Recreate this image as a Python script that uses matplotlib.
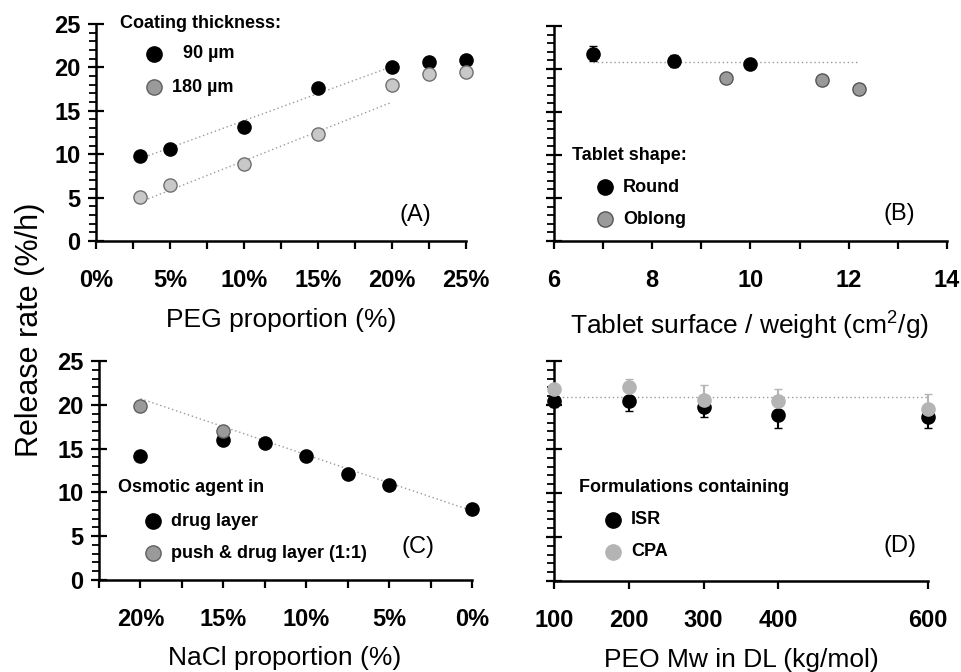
import matplotlib.pyplot as plt
from matplotlib.lines import Line2D
from matplotlib.ticker import MultipleLocator, FixedLocator, FuncFormatter

plt.rcParams['font.family'] = ['Liberation Sans', 'DejaVu Sans']
plt.rcParams['font.weight'] = 'bold'
plt.rcParams['mathtext.default'] = 'regular'

###### data ######
# (A) PEG proportion in coating
peg_pct = [3, 5, 10, 15, 20, 22.5, 25]
rate_90um = [9.8, 10.6, 13.1, 17.6, 20.0, 20.6, 20.8]
rate_180um = [5.1, 6.4, 8.9, 12.3, 18.0, 19.2, 19.5]
fit_a_x = [3, 20]
fit_a_90um = [9.5, 20.1]
fit_a_180um = [4.5, 16.0]

# (B) tablet surface / weight
round_sw = [6.8, 8.45, 10.0]
round_rate = [21.8, 20.9, 20.6]
round_err = [0.9, 0.7, 0.3]
oblong_sw = [9.5, 11.45, 12.2]
oblong_rate = [18.9, 18.7, 17.7]
oblong_err = [0.3, 0.5, 0.3]
fit_b_x = [6.8, 12.2]
fit_b_y = [20.8, 20.8]

# (C) NaCl proportion
nacl_pct = [20, 15, 12.5, 10, 7.5, 5, 0]
rate_drug_layer = [14.1, 16.0, 15.6, 14.1, 12.1, 10.9, 8.05]
nacl_pct_push = [20, 15]
rate_push_drug = [19.9, 17.0]
fit_c_x = [20, 0]
fit_c_y = [20.7, 7.9]

# (D) PEO Mw in drug layer
peo_mw = [100, 200, 300, 400, 600]
rate_isr = [20.4, 20.5, 19.8, 18.9, 18.6]
isr_err = [0.6, 1.15, 1.2, 1.5, 1.25]
rate_cpa = [21.8, 22.1, 20.6, 20.4, 19.5]
cpa_err = [0.4, 0.9, 1.7, 1.4, 1.8]
fit_d_x = [100, 600]
fit_d_y = [20.9, 20.9]

W, H = 962, 672
fig = plt.figure(figsize=(W / 100, H / 100), dpi=100)


def fx(x):
    return x / W


def fy(y):
    return 1 - y / H


def px_axes(l, t, r, b):
    return fig.add_axes([fx(l), fy(b), (r - l) / W, (b - t) / H])


def style(ax, ylabels=True):
    for s in ('top', 'right'):
        ax.spines[s].set_visible(False)
    for s in ('left', 'bottom'):
        ax.spines[s].set_linewidth(1.8)
    ax.set_ylim(0, 25)
    ax.yaxis.set_major_locator(MultipleLocator(5))
    ax.yaxis.set_minor_locator(MultipleLocator(1))
    ax.tick_params(axis='y', which='major', direction='inout', length=12, width=1.6, pad=5, labelsize=17)
    ax.tick_params(axis='y', which='minor', direction='out', length=5, width=1.3)
    ax.tick_params(axis='x', which='both', direction='out', length=6, width=1.6, pad=14, labelsize=17)
    if not ylabels:
        ax.tick_params(axis='y', labelleft=False)


def pct_fmt(v, pos):
    return f"{v:.0f}%" if abs(v % 5) < 1e-6 else ""


def key(x, y, label, fc, ec):
    fig.add_artist(Line2D([fx(x)], [fy(y)], transform=fig.transFigure, marker='o', ms=11,
                          mfc=fc, mec=ec, mew=1, ls='none'))
    fig.text(fx(x + 18), fy(y), label, fontsize=13, va='center', ha='left')


dot = dict(ls=(0, (1, 2)), color='#9a9a9a', lw=1.0, zorder=1)

###### (A) ######
axA = px_axes(96, 24, 466, 241)
style(axA)
axA.set_xlim(0, 25)
axA.xaxis.set_major_locator(MultipleLocator(2.5))
axA.xaxis.set_major_formatter(FuncFormatter(pct_fmt))
axA.plot(fit_a_x, fit_a_90um, **dot)
axA.plot(fit_a_x, fit_a_180um, **dot)
axA.plot(peg_pct, rate_90um, 'o', ms=9.5, mfc='black', mec='black', clip_on=False, zorder=3)
axA.plot(peg_pct, rate_180um, 'o', ms=9.5, mfc='#c8c8c8', mec='#707070', mew=1, clip_on=False, zorder=3)
fig.text(fx(120), fy(23), 'Coating thickness:', fontsize=13, va='center')
fig.add_artist(Line2D([fx(154)], [fy(54)], transform=fig.transFigure, marker='o', ms=11,
                      mfc='black', mec='black', ls='none'))
fig.text(fx(183), fy(54), '90 \u00b5m', fontsize=13, va='center')
fig.add_artist(Line2D([fx(154)], [fy(87)], transform=fig.transFigure, marker='o', ms=11,
                      mfc='#9a9a9a', mec='#606060', mew=1, ls='none'))
fig.text(fx(172), fy(87), '180 \u00b5m', fontsize=13, va='center')
fig.text(fx(415), fy(215), '(A)', fontsize=17, weight='normal', ha='center', va='center')
fig.text(fx(281), fy(320), 'PEG proportion (%)', fontsize=19, weight='normal', ha='center', va='center')

###### (B) ######
axB = px_axes(554, 26, 947, 241)
style(axB, ylabels=False)
axB.set_xlim(6, 14)
axB.xaxis.set_major_locator(MultipleLocator(1))
axB.xaxis.set_major_formatter(FuncFormatter(lambda v, p: f"{v:.0f}" if v % 2 == 0 else ""))
axB.plot(fit_b_x, fit_b_y, **dot)
axB.errorbar(round_sw, round_rate, yerr=round_err, fmt='o', ms=9.5, mfc='black', mec='black',
             ecolor='black', elinewidth=1.5, capsize=3, zorder=3)
axB.errorbar(oblong_sw, oblong_rate, yerr=oblong_err, fmt='o', ms=9.5, mfc='#9a9a9a', mec='#555555',
             mew=1, ecolor='black', elinewidth=1.5, capsize=3, zorder=3)
fig.text(fx(572), fy(155), 'Tablet shape:', fontsize=13, va='center')
key(605, 187, 'Round', 'black', 'black')
key(605, 219, 'Oblong', '#9a9a9a', '#555555')
fig.text(fx(899), fy(214), '(B)', fontsize=17, weight='normal', ha='center', va='center')
fig.text(fx(750), fy(326), 'Tablet surface / weight (cm$^2$/g)', fontsize=19, weight='normal',
         ha='center', va='center')

###### (C) ######
axC = px_axes(99, 361, 472, 580)
style(axC)
axC.set_xlim(22.5, 0)
axC.xaxis.set_major_locator(MultipleLocator(2.5))
axC.xaxis.set_major_formatter(FuncFormatter(pct_fmt))
axC.plot(fit_c_x, fit_c_y, **dot)
axC.plot(nacl_pct, rate_drug_layer, 'o', ms=9.5, mfc='black', mec='black', clip_on=False, zorder=3)
axC.plot(nacl_pct_push, rate_push_drug, 'o', ms=9.5, mfc='#9a9a9a', mec='#606060', mew=1,
         clip_on=False, zorder=4)
fig.text(fx(118), fy(488), 'Osmotic agent in', fontsize=13, va='center')
key(153, 521, 'drug layer', 'black', 'black')
key(153, 553, 'push & drug layer (1:1)', '#9a9a9a', '#606060')
fig.text(fx(418), fy(547), '(C)', fontsize=17, weight='normal', ha='center', va='center')
fig.text(fx(285), fy(658), 'NaCl proportion (%)', fontsize=19, weight='normal', ha='center', va='center')

###### (D) ######
axD = px_axes(554, 361, 928, 581)
style(axD, ylabels=False)
axD.set_xlim(100, 600)
axD.xaxis.set_major_locator(FixedLocator(peo_mw))
axD.plot(fit_d_x, fit_d_y, **dot)
zeros = [0] * len(peo_mw)
eb1 = axD.errorbar(peo_mw, rate_isr, yerr=[isr_err, zeros], fmt='o', ms=9.5, mfc='black', mec='black',
                   ecolor='black', elinewidth=1.5, capsize=3, zorder=3)
eb2 = axD.errorbar(peo_mw, rate_cpa, yerr=[zeros, cpa_err], fmt='o', ms=9.5, mfc='#b4b4b4', mec='#b4b4b4',
                   ecolor='#b4b4b4', elinewidth=1.5, capsize=3, zorder=4)
for eb in (eb1, eb2):
    for art in eb.get_children():
        art.set_clip_on(False)
fig.text(fx(579), fy(487), 'Formulations containing', fontsize=13, va='center')
key(613, 520, 'ISR', 'black', 'black')
key(613, 552, 'CPA', '#b4b4b4', '#b4b4b4')
fig.text(fx(900), fy(546), '(D)', fontsize=17, weight='normal', ha='center', va='center')
fig.text(fx(741), fy(660), 'PEO Mw in DL (kg/mol)', fontsize=19, weight='normal', ha='center', va='center')

fig.text(fx(30), fy(330), 'Release rate (%/h)', fontsize=22, weight='normal', rotation=90,
         ha='center', va='center')

fig.savefig('out.png', dpi=100)
